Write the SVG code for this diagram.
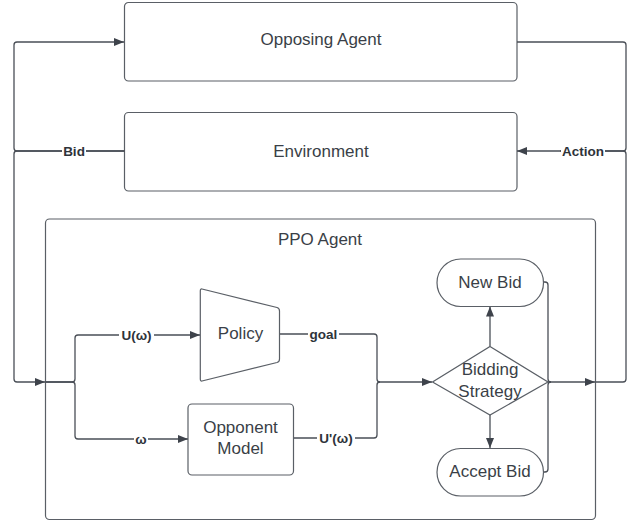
<svg xmlns="http://www.w3.org/2000/svg" width="633" height="521" viewBox="0 0 633 521">
<defs>
<style>
.box{fill:#ffffff;stroke:#5a5f66;stroke-width:1.2}
.t{font-family:"Liberation Sans",Arial,sans-serif;font-size:17px;fill:#3a3f47;text-anchor:middle}
.lbl{font-family:"Liberation Sans",Arial,sans-serif;font-size:13.5px;font-weight:bold;fill:#2e333a;text-anchor:middle}
.ln{fill:none;stroke:#4a4f57;stroke-width:1.3}
.bg{fill:#ffffff}
</style>
<marker id="arr" viewBox="0 0 10 8" refX="10" refY="4" markerWidth="10" markerHeight="8" markerUnits="userSpaceOnUse" orient="auto">
<path d="M0,0 L10,4 L0,8 Z" fill="#3e434b"/>
</marker>
</defs>
<rect width="633" height="521" fill="#ffffff"/>
<g id="ppo-agent">
<rect class="box" x="45.5" y="219" width="550" height="300.5" rx="4"/>
<text class="t" x="320" y="245">PPO Agent</text>
</g>
<g id="opposing-agent">
<rect class="box" x="124.5" y="2.5" width="392.5" height="78.5" rx="4"/>
<text class="t" x="321" y="45">Opposing Agent</text>
</g>
<g id="environment">
<rect class="box" x="124.5" y="112.5" width="392.5" height="78.5" rx="4"/>
<text class="t" x="321" y="157">Environment</text>
</g>
<g id="connectors">
<path class="ln" d="M124.5,151 H17 Q14,151 14,148 V45 Q14,42 17,42 H124" marker-end="url(#arr)"/>
<path class="ln" d="M124.5,151 H17 Q14,151 14,154 V379 Q14,382 17,382 H45" marker-end="url(#arr)"/>
<path class="ln" d="M517,42 H623 Q626,42 626,45 V148 Q626,151 623,151 H517" marker-end="url(#arr)"/>
<path class="ln" d="M595.5,382 H623 Q626,382 626,379 V154 Q626,151 623,151 H560"/>
<path class="ln" d="M45.5,382 H72 Q75,382 75,379 V338 Q75,335 78,335 H200" marker-end="url(#arr)"/>
<path class="ln" d="M45.5,382 H72 Q75,382 75,385 V436 Q75,439 78,439 H188" marker-end="url(#arr)"/>
<path class="ln" d="M279.5,334 H374 Q377,334 377,337 V379 Q377,382 380,382 H432" marker-end="url(#arr)"/>
<path class="ln" d="M293.5,438 H374 Q377,438 377,435 V385 Q377,382 380,382"/>
<path class="ln" d="M490,346.5 V306.5" marker-end="url(#arr)"/>
<path class="ln" d="M490,415 V448" marker-end="url(#arr)"/>
<path class="ln" d="M543.5,282 H545 Q548,282 548,285 V379 Q548,382 551,382"/>
<path class="ln" d="M543.5,472 H545 Q548,472 548,469 V385 Q548,382 551,382"/>
<path class="ln" d="M548,382 H595" marker-end="url(#arr)"/>
<rect class="bg" x="62" y="143" width="24" height="16"/>
<text class="lbl" x="74" y="156">Bid</text>
<rect class="bg" x="561" y="143" width="44" height="16"/>
<text class="lbl" x="583" y="156">Action</text>
<rect class="bg" x="119" y="327" width="35" height="16"/>
<text class="lbl" x="136.5" y="340">U(ω)</text>
<rect class="bg" x="134" y="431" width="14" height="16"/>
<text class="lbl" x="141" y="444">ω</text>
<rect class="bg" x="308" y="326" width="31" height="16"/>
<text class="lbl" x="323.5" y="339">goal</text>
<rect class="bg" x="317" y="430" width="38" height="16"/>
<text class="lbl" x="336" y="443">U'(ω)</text>
</g>
<g id="policy">
<path class="box" d="M202,289 L277,307.5 Q279.5,308.2 279.5,311 V359 Q279.5,361.8 277,362.5 L202,381 Q200.3,381.4 200.3,379 V291 Q200.3,288.6 202,289 Z"/>
<text class="t" x="240.5" y="339">Policy</text>
</g>
<g id="opponent-model">
<rect class="box" x="188" y="404" width="105.5" height="71" rx="4"/>
<text class="t" x="240.5" y="433">Opponent</text>
<text class="t" x="240.5" y="454">Model</text>
</g>
<g id="bidding-strategy">
<path class="box" d="M490,346.5 L548,382 L490,415 L432.5,382 Z"/>
<text class="t" x="490" y="375">Bidding</text>
<text class="t" x="490" y="397">Strategy</text>
</g>
<g id="new-bid">
<rect class="box" x="437" y="259" width="106.5" height="47.5" rx="23.7"/>
<text class="t" x="490" y="288">New Bid</text>
</g>
<g id="accept-bid">
<rect class="box" x="437" y="448.5" width="106.5" height="47.5" rx="23.7"/>
<text class="t" x="490" y="477">Accept Bid</text>
</g>
</svg>
